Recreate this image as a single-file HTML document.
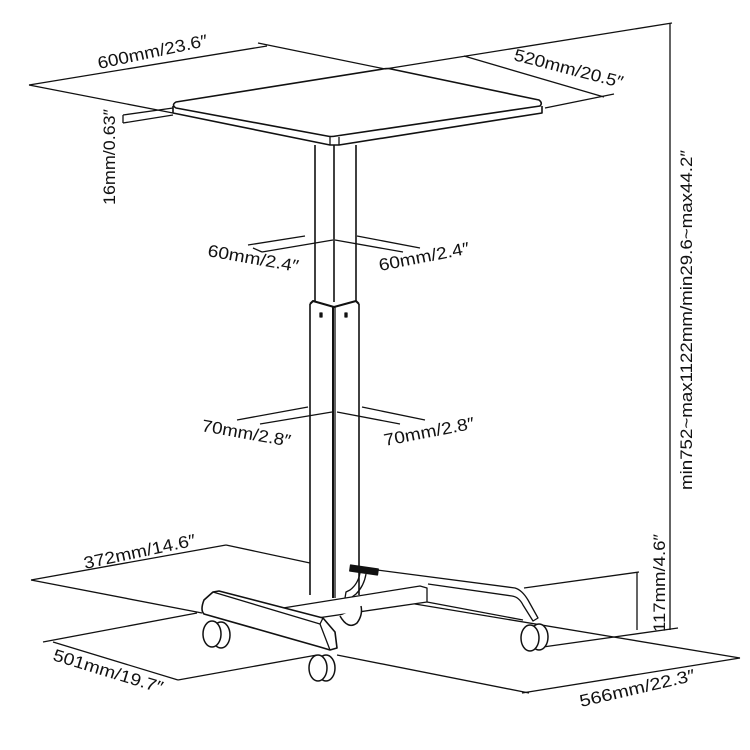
<!DOCTYPE html>
<html><head><style>html,body{margin:0;padding:0;background:#fff}svg{display:block}</style></head>
<body>
<svg width="750" height="750" viewBox="0 0 750 750" xmlns="http://www.w3.org/2000/svg">
<g fill="none" stroke="#111" stroke-width="1.3" stroke-linejoin="round">
<line x1="29" y1="85" x2="267" y2="46"/>
<line x1="29" y1="85" x2="173" y2="113"/>
<line x1="258" y1="43" x2="385" y2="69"/>
<line x1="385" y1="69" x2="672" y2="23"/>
<line x1="464" y1="56" x2="604" y2="97"/>
<line x1="545" y1="108" x2="614" y2="94"/>
<line x1="123" y1="115" x2="173" y2="108"/>
<line x1="123" y1="123" x2="173" y2="115"/>
<line x1="123" y1="115" x2="123" y2="123"/>
<line x1="670" y1="23" x2="670" y2="630"/>
<path d="M176,102 L383,69 Q387,68 391,69 L539,100 Q543,103 540,106 L336,136 Q331,137 327,136 L176,108 Q171,105 176,102 Z" stroke-width="1.6"/>
<path d="M173,106 L173,113 L330,145 L339,145 L542,113 L542,106" stroke-width="1.6"/>
<line x1="330" y1="137" x2="330" y2="145"/>
<line x1="339" y1="137" x2="339" y2="145"/>
<line x1="315" y1="145" x2="315" y2="302" stroke-width="1.6"/>
<line x1="334" y1="145" x2="334" y2="302" stroke-width="1.6"/>
<line x1="356" y1="145" x2="356" y2="302" stroke-width="1.6"/>
<path d="M310,304 L313,301 L334,307 L356,301 L359,304" stroke-width="2"/>
<line x1="310" y1="304" x2="310" y2="595" stroke-width="1.6"/>
<line x1="333" y1="307" x2="333" y2="598" stroke-width="2"/>
<line x1="335" y1="307" x2="335" y2="598"/>
<line x1="359" y1="304" x2="359" y2="595" stroke-width="1.6"/>
<rect x="320" y="313" width="2" height="4" fill="#111"/>
<rect x="345" y="313" width="2" height="4" fill="#111"/>
<line x1="248" y1="245" x2="305" y2="236"/>
<line x1="262" y1="252" x2="333" y2="240"/>
<line x1="253" y1="248" x2="262" y2="252"/>
<line x1="357" y1="236" x2="420" y2="248"/>
<line x1="335" y1="240" x2="403" y2="252"/>
<line x1="237" y1="420" x2="308" y2="407"/>
<line x1="260" y1="424" x2="332" y2="412"/>
<line x1="362" y1="407" x2="425" y2="420"/>
<line x1="337" y1="412" x2="400" y2="424"/>
<line x1="31" y1="580" x2="226" y2="545"/>
<line x1="226" y1="545" x2="310" y2="563"/>
<line x1="31" y1="580" x2="202" y2="613"/>
<line x1="43" y1="642" x2="197" y2="613"/>
<line x1="53" y1="642" x2="178" y2="680"/>
<line x1="178" y1="680" x2="317" y2="655"/>
<line x1="337" y1="655" x2="529" y2="693"/>
<line x1="522" y1="693" x2="740" y2="658"/>
<line x1="409" y1="603" x2="740" y2="658"/>
<line x1="524" y1="588" x2="639" y2="572"/>
<line x1="543" y1="647" x2="678" y2="628"/>
<line x1="637" y1="572" x2="637" y2="630"/>
<path d="M283,608 L420,586 L427,588 L427,602 L290,622" fill="#fff"/>
<path d="M377,570 L515,588 Q522,590 528,600 L538,618 L533,621 L523,605 Q519,597 512,596 L428,584" fill="#fff"/>
<line x1="427" y1="602" x2="523" y2="620"/>
<path d="M213,592 L219,591 L323,618 L335,632 L337,648 L330,650 L320,647 L204,614 Q200,610 204,600 Z" fill="#fff" stroke-width="1.6"/>
<path d="M213,592 L320,624 L323,618"/>
<path d="M320,624 L330,650"/>
<rect x="350" y="567" width="28" height="6" fill="#111" transform="rotate(8 364 570)"/>
<path d="M360,573 Q358,584 350,590 L346,592 L345,598 M366,574 Q364,586 356,594 L352,597" />
<g fill="#fff" stroke-width="1.5">
<ellipse cx="221" cy="635" rx="9" ry="13"/><ellipse cx="212" cy="634" rx="9" ry="13"/>
<ellipse cx="326" cy="668" rx="9" ry="13"/><ellipse cx="318" cy="668" rx="9" ry="13"/>
<ellipse cx="539" cy="637" rx="9" ry="13"/><ellipse cx="530" cy="638" rx="9" ry="13"/>
<path d="M340,616 Q348,630 357,623 Q363,615 361,606"/>
</g>
</g>
<g font-family="'Liberation Sans Narrow','Liberation Sans',sans-serif" font-size="17" fill="#111">
<text transform="translate(99,69) rotate(-12)" textLength="112" lengthAdjust="spacingAndGlyphs">600mm/23.6″</text>
<text transform="translate(513,60) rotate(14.5)" textLength="112" lengthAdjust="spacingAndGlyphs">520mm/20.5″</text>
<text transform="translate(207,256) rotate(10)" textLength="92" lengthAdjust="spacingAndGlyphs">60mm/2.4″</text>
<text transform="translate(380,271) rotate(-11)" textLength="92" lengthAdjust="spacingAndGlyphs">60mm/2.4″</text>
<text transform="translate(201,431) rotate(10)" textLength="90" lengthAdjust="spacingAndGlyphs">70mm/2.8″</text>
<text transform="translate(385,446) rotate(-11)" textLength="92" lengthAdjust="spacingAndGlyphs">70mm/2.8″</text>
<text transform="translate(85,569) rotate(-12)" textLength="114" lengthAdjust="spacingAndGlyphs">372mm/14.6″</text>
<text transform="translate(52,660) rotate(17)" textLength="114" lengthAdjust="spacingAndGlyphs">501mm/19.7″</text>
<text transform="translate(581,707) rotate(-13)" textLength="118" lengthAdjust="spacingAndGlyphs">566mm/22.3″</text>
<text transform="translate(692,490) rotate(-90)" textLength="340" lengthAdjust="spacingAndGlyphs" font-family="'Liberation Sans',sans-serif">min752~max1122mm/min29.6~max44.2″</text>
<text transform="translate(665,632) rotate(-90)" textLength="98" lengthAdjust="spacingAndGlyphs" font-family="'Liberation Sans',sans-serif">117mm/4.6″</text>
<text transform="translate(115,205) rotate(-90)" textLength="96" lengthAdjust="spacingAndGlyphs" font-family="'Liberation Sans',sans-serif">16mm/0.63″</text>
</g>
</svg>
</body></html>
